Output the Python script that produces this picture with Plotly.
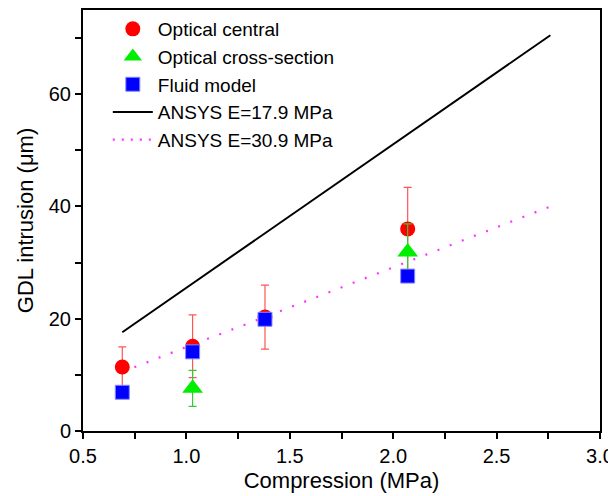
import plotly.graph_objects as go

# Compression (MPa)
x_central = [0.69, 1.03, 1.38, 2.07]
y_central = [11.4, 15.1, 20.3, 36.0]
err_central = [3.6, 5.6, 5.7, 7.4]

x_cross = [1.03, 2.07]
y_cross = [7.6, 31.9]
err_cross = [3.2, 5.0]

x_fluid = [0.69, 1.03, 1.38, 2.07]
y_fluid = [6.9, 14.1, 19.9, 27.6]

x_ansys = [0.69, 1.03, 1.38, 2.07, 2.76]
y_ansys_179 = [17.6, 26.3, 35.3, 52.9, 70.5]
y_ansys_309 = [10.5, 15.4, 20.3, 30.2, 40.0]

names = ["Optical central", "Optical cross-section", "Fluid model",
         "ANSYS E=17.9 MPa", "ANSYS E=30.9 MPa"]

font_family = "Liberation Sans, Arial, sans-serif"

fig = go.Figure()
fig.add_trace(go.Scatter(
    x=x_ansys, y=y_ansys_309, mode="lines", name=names[4],
    line=dict(color="#ff33ff", width=2.2, dash="2px,11px"), showlegend=False))
fig.add_trace(go.Scatter(
    x=x_ansys, y=y_ansys_179, mode="lines", name=names[3],
    line=dict(color="black", width=2), showlegend=False))
fig.add_trace(go.Scatter(
    x=x_central, y=y_central, mode="markers", name=names[0],
    marker=dict(symbol="circle", size=15, color="#ff0000"),
    error_y=dict(type="data", array=err_central, color="#ff5555", thickness=1.2, width=4)))
fig.add_trace(go.Scatter(
    x=x_cross, y=y_cross, mode="markers", name=names[1],
    marker=dict(symbol="triangle-up", size=18, color="#00ee00"),
    error_y=dict(type="data", array=err_cross, color="#33cc33", thickness=1.2, width=4)))
fig.add_trace(go.Scatter(
    x=x_fluid, y=y_fluid, mode="markers", name=names[2],
    marker=dict(symbol="square", size=14, color="#0000ff",
                line=dict(color="#8888ff", width=1))))
# legend-only entries for lines (to keep legend order)
fig.add_trace(go.Scatter(
    x=[None], y=[None], mode="lines", name=names[3],
    line=dict(color="black", width=2)))
fig.add_trace(go.Scatter(
    x=[None], y=[None], mode="lines", name=names[4],
    line=dict(color="#ff33ff", width=2.2, dash="2px,7px")))

axis_common = dict(
    showline=True, linecolor="black", linewidth=2, mirror=True,
    ticks="outside", ticklen=6, tickwidth=2, tickcolor="black",
    showgrid=False, zeroline=False, automargin=False,
    tickfont=dict(family=font_family, size=20, color="black"),
)

fig.update_xaxes(
    range=[0.5, 3.0], dtick=0.5, tick0=0.5, tickformat=".1f",
    minor=dict(ticks="outside", ticklen=6, tickwidth=2, tickcolor="black", dtick=0.25),
    title=dict(text="Compression (MPa)", font=dict(family=font_family, size=22, color="black"),
               standoff=7),
    **axis_common)
fig.update_yaxes(
    range=[0, 75], dtick=20, tick0=0,
    minor=dict(ticks="outside", ticklen=6, tickwidth=2, tickcolor="black", dtick=10),
    title=dict(text="GDL intrusion (μm)", font=dict(family=font_family, size=22, color="black"),
               standoff=9),
    **axis_common)

# page body has an 8px default margin, so the figure is sized to fit the window
fig.update_layout(
    width=608, height=488,
    margin=dict(l=75, r=16, t=2, b=65),
    plot_bgcolor="white", paper_bgcolor="white",
    font=dict(family=font_family, color="black"),
    legend=dict(x=0.048, y=1.0, xanchor="left", yanchor="top",
                bgcolor="rgba(0,0,0,0)", borderwidth=0,
                font=dict(family=font_family, size=19, color="black"),
                tracegroupgap=0, itemwidth=40),
)

fig.write_html("out.html")
